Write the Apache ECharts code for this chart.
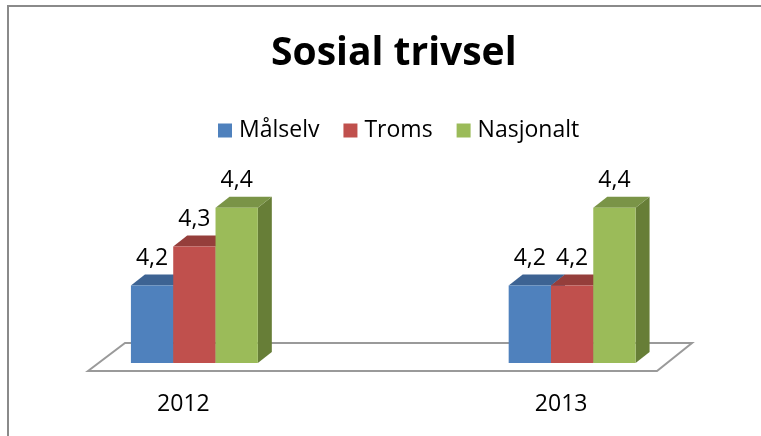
<html>
<head>
<meta charset="UTF-8" />
<title>Sosial trivsel</title>
<script src="https://cdn.jsdelivr.net/npm/echarts@6/dist/echarts.min.js"></script>
<style type="text/css">
body{ margin:0; background:#fff; }
#main{ width:761px; height:436px; }
</style>
</head>
<body>
<div id="main"></div>
<script type="text/javascript">
// data
var years = ['2012', '2013'];
var seriesNames = ['Målselv', 'Troms', 'Nasjonalt'];
var malselv = [4.2, 4.2];
var troms = [4.3, 4.2];
var nasjonalt = [4.4, 4.4];

var fronts = ['#4F81BD', '#C0504D', '#9BBB59'];
var tops = ['#3D6393', '#953E3B', '#7A9447'];
var sides = ['#35577F', '#7F3432', '#677E37'];

var BW = 42.3, DX = 14, DY = 11, FONT = 'Open Sans';

function makeRender(k) {
  return function (params, api) {
    var c = api.value(0), v = api.value(1);
    var top = api.coord([c, v]);
    var base = api.coord([c, 4.0]);
    var x0 = top[0] + (k - 1.5) * BW;
    var ty = top[1], by = base[1];
    return {
      type: 'group',
      children: [
        { type: 'polygon', shape: { points: [[x0 + BW, ty], [x0 + BW + DX, ty - DY], [x0 + BW + DX, by - DY], [x0 + BW, by]] },
          style: { fill: sides[k] } },
        { type: 'polygon', shape: { points: [[x0, ty], [x0 + BW, ty], [x0 + BW + DX, ty - DY], [x0 + DX, ty - DY]] },
          style: { fill: tops[k] } },
        { type: 'rect', shape: { x: x0, y: ty, width: BW, height: by - ty },
          style: { fill: fronts[k] } },
        { type: 'text', z2: 10,
          style: { text: String(v).replace('.', ','), x: x0 + BW / 2, y: ty - 27,
                   align: 'center', verticalAlign: 'middle',
                   font: '23px "' + FONT + '"', fill: '#000' } }
      ]
    };
  };
}

var lists = [malselv, troms, nasjonalt];
var series = [];
for (var k = 0; k < 3; k++) {
  series.push({
    name: seriesNames[k],
    type: 'custom',
    renderItem: makeRender(k),
    itemStyle: { color: fronts[k] },
    encode: { x: 0, y: 1 },
    data: lists[k].map(function (v, i) { return [i, v]; })
  });
}

var myChart = echarts.init(document.getElementById('main'));
myChart.setOption({
  animation: false,
  title: {
    text: 'Sosial trivsel',
    left: 266, top: 29,
    textStyle: { fontFamily: FONT, fontWeight: 'bold', fontSize: 39, color: '#000' }
  },
  legend: {
    data: seriesNames,
    left: 213, top: 114,
    icon: 'rect', itemWidth: 14, itemHeight: 14, itemGap: 24,
    textStyle: { fontFamily: FONT, fontSize: 23, color: '#000', padding: [0, 0, 0, 2] }
  },
  graphic: [
    { type: 'rect', z: 0, shape: { x: 8, y: 6, width: 900, height: 600 },
      style: { fill: '#fff', stroke: '#8a8a8a', lineWidth: 2 } },
    { type: 'polygon', z: 1, shape: { points: [[88, 371], [125, 343], [692, 343], [657, 371]] },
      style: { fill: '#fff', stroke: '#9a9a9a', lineWidth: 2 } }
  ],
  grid: { left: 5.5, width: 756, top: 169, height: 194 },
  xAxis: {
    type: 'category',
    data: years,
    axisLine: { show: false },
    axisTick: { show: false },
    axisLabel: { margin: 30, padding: [0, 22, 0, 0], fontFamily: FONT, fontSize: 23, color: '#000' }
  },
  yAxis: { type: 'value', min: 4.0, max: 4.5, show: false, splitLine: { show: false } },
  series: series
});
</script>
</body>
</html>
